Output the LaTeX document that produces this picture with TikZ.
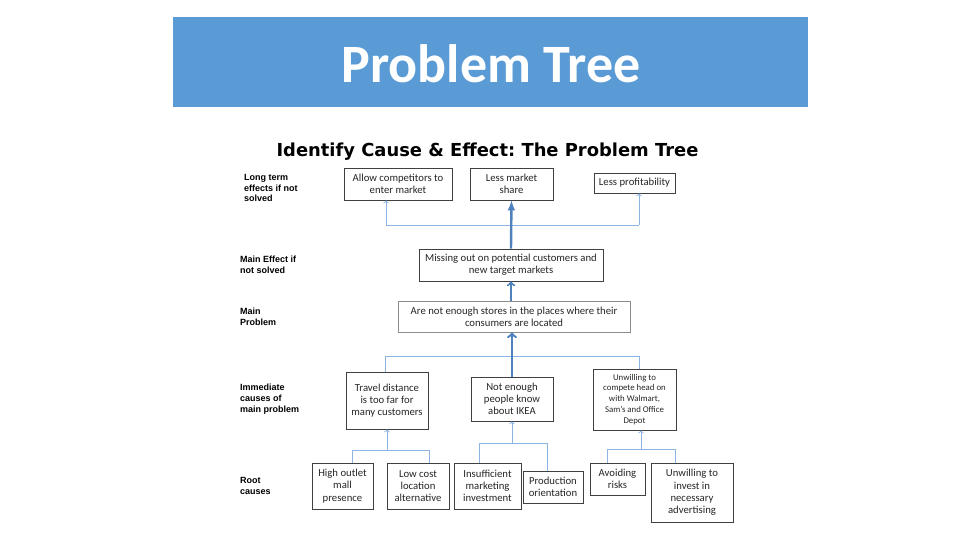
\documentclass[tikz,border=0pt]{standalone}
\usepackage{fontspec}
\setmainfont{Carlito}
\newfontfamily\labfont{Liberation Sans}
\newfontfamily\headfont{DejaVu Sans}
\usetikzlibrary{arrows}
\definecolor{bannerblue}{HTML}{5B9BD5}
\definecolor{linkblue}{HTML}{8DB4E2}
\definecolor{mainblue}{HTML}{4F81BD}
\frenchspacing
\begin{document}
\begin{tikzpicture}[x=1pt,y=-1pt,
   box/.style={draw=black!75,line width=0.8pt,fill=white,align=center,inner sep=1pt,
      text=black!85,font=\fontsize{10.7}{12.3}\selectfont},
   smallbox/.style={box,font=\fontsize{8.8}{10.9}\selectfont},
   lab/.style={anchor=north west,align=left,inner sep=0pt,
      font=\labfont\bfseries\fontsize{9}{10.8}\selectfont},
   link/.style={linkblue,line width=1pt},
   mainlink/.style={mainblue,line width=2.4pt}]
   \useasboundingbox (0,0) rectangle (960,540);
   \fill [bannerblue] (173,17) rectangle (808,107);
   \node [text=white,font=\bfseries\fontsize{54}{60}\selectfont] (title) at (491,64) {Problem Tree};
   \node [font=\headfont\bfseries\fontsize{17.9}{21}\selectfont] (heading) at (487.5,152) {Identify Cause \& Effect: The Problem Tree};
   \node [lab] (lblLong) at (244,174) {Long term\\effects if not\\solved};
   \node [lab] (lblEffect) at (240,256) {Main Effect if\\not solved};
   \node [lab] (lblMain) at (240,308) {Main\\Problem};
   \node [lab] (lblCause) at (240,384) {Immediate\\causes of\\main problem};
   \node [lab] (lblRoot) at (240,477) {Root\\causes};
   \node [box,minimum width=108,minimum height=32] (allow) at (398,184) {Allow competitors to\\enter market};
   \node [box,minimum width=83,minimum height=32] (share) at (511.5,184) {Less market\\share};
   \node [box,minimum width=81,minimum height=20] (profit) at (634.5,183) {Less profitability};
   \node [box,minimum width=184,minimum height=32] (miss) at (511,265) {Missing out on potential customers and\\new target markets};
   \node [box,draw=black!45,minimum width=232,minimum height=31] (problem) at (514,316.5) {Are not enough stores in the places where their\\consumers are located};
   \node [box,minimum width=82,minimum height=57] (travel) at (387,400.5) {Travel distance\\is too far for\\many customers};
   \node [box,minimum width=82,minimum height=44] (know) at (512,399) {Not enough\\people know\\about IKEA};
   \node [smallbox,minimum width=83,minimum height=61] (unwill) at (634.5,399.5) {Unwilling to\\compete head on\\with Walmart,\\Sam's and Office\\Depot};
   \node [box,minimum width=61,minimum height=46] (high) at (342.5,486) {High outlet\\mall\\presence};
   \node [box,minimum width=62,minimum height=46] (low) at (418,486) {Low cost\\location\\alternative};
   \node [box,minimum width=67,minimum height=46] (insuf) at (487.5,486) {Insufficient\\marketing\\investment};
   \node [box,minimum width=60,minimum height=32] (prod) at (553,487) {Production\\orientation};
   \node [box,minimum width=55,minimum height=32] (avoid) at (617.5,479) {Avoiding\\risks};
   \node [box,minimum width=82,minimum height=59] (invest) at (692,492.5) {Unwilling to\\invest in\\necessary\\advertising};
   \coordinate (effL) at (386,225);
   \coordinate (effR) at (639,225);
   \draw [link,->] (effL) -- (effL |- allow.south);
   \draw [link,->] (effR) -- (effR |- profit.south);
   \draw [link] (effL) -- (effR);
   \draw [mainlink,-latex] (miss.north) -- (share.south);
   \draw [mainblue,line width=2pt,->] (miss.south |- problem.north) -- (miss.south);
   \coordinate (cauL) at (385,356);
   \coordinate (cauR) at (639,356);
   \draw [link] (cauL |- travel.north) -- (cauL) -- (cauR) -- (cauR |- unwill.north);
   \draw [mainlink,->] (know.north) -- (know.north |- problem.south);
   \coordinate (trvM) at (387,450);
   \coordinate (trvL) at (352,450);
   \coordinate (trvR) at (429,450);
   \draw [link,->] (trvM) -- (trvM |- travel.south);
   \draw [link] (trvL |- high.north) -- (trvL) -- (trvR) -- (trvR |- low.north);
   \coordinate (knwM) at (512,443);
   \coordinate (knwL) at (479,443);
   \coordinate (knwR) at (547,443);
   \draw [link,->] (knwM) -- (knwM |- know.south);
   \draw [link] (knwL |- insuf.north) -- (knwL) -- (knwR) -- (knwR |- prod.north);
   \coordinate (unwM) at (641,449);
   \coordinate (unwL) at (607,449);
   \coordinate (unwR) at (675,449);
   \draw [link,->] (unwM) -- (unwM |- unwill.south);
   \draw [link] (unwL |- avoid.north) -- (unwL) -- (unwR) -- (unwR |- invest.north);
\end{tikzpicture}
\end{document}
